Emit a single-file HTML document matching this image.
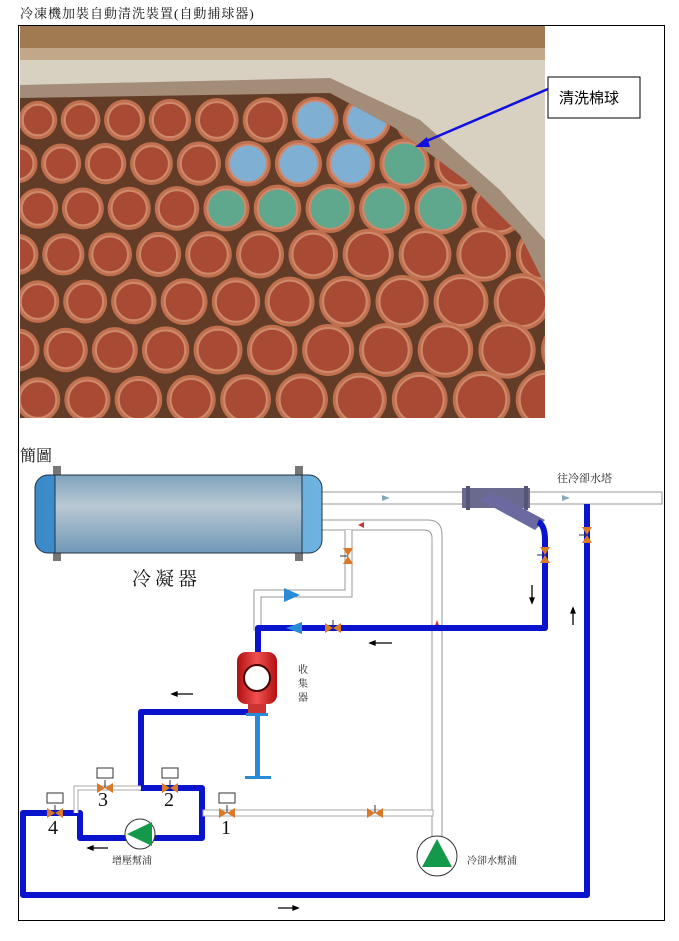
<!DOCTYPE html>
<html><head><meta charset="utf-8">
<style>
body{margin:0;background:#fff;width:679px;height:941px;overflow:hidden;position:relative;font-family:"Liberation Serif","Noto Serif CJK SC","Noto Sans CJK TC",serif;}
.t{position:absolute;white-space:nowrap;color:#111}
</style></head><body>
<div class="t" style="left:20px;top:3px;font-size:13px;letter-spacing:1px">冷凍機加裝自動清洗裝置(自動捕球器)</div>
<div style="position:absolute;left:18px;top:25px;width:645px;height:894px;border:1px solid #000"></div>
<svg id="s" width="679" height="941" style="position:absolute;left:0;top:0">
<defs>
<linearGradient id="cg" x1="0" y1="0" x2="0" y2="1"><stop offset="0" stop-color="#7fa3bd"/><stop offset="0.4" stop-color="#b9c8d2"/><stop offset="1" stop-color="#6f98b8"/></linearGradient>
<linearGradient id="eg" x1="0" y1="0" x2="1" y2="0"><stop offset="0" stop-color="#3a8ac8"/><stop offset="1" stop-color="#6fb3e0"/></linearGradient>
<linearGradient id="rg" x1="0" y1="0" x2="1" y2="0"><stop offset="0" stop-color="#b01010"/><stop offset="0.5" stop-color="#f05050"/><stop offset="1" stop-color="#b01010"/></linearGradient>
<clipPath id="pc"><rect x="20" y="26" width="525" height="392"/></clipPath>
<clipPath id="tc"><polygon points="20,98 330,93 395,128 465,180 520,235 545,285 545,418 20,418"/></clipPath>
</defs>
<g clip-path="url(#pc)">
<rect x="20" y="26" width="525" height="392" fill="#d8d0c0"/>
<rect x="20" y="26" width="525" height="22" fill="#a27a52"/>
<rect x="20" y="48" width="525" height="12" fill="#c2a888"/>
<polygon points="20,85 330,78 420,120 500,190 545,240 545,418 20,418" fill="#6e4a30" opacity="0.5"/>
<g clip-path="url(#tc)"><rect x="20" y="90" width="525" height="330" fill="#623c26"/><g id="tubes"></g></g>
</g>
<rect x="548" y="77" width="92" height="41" fill="#fff" stroke="#000"/>
<text x="559" y="103" font-size="15" font-family="Liberation Sans,Noto Sans CJK TC,sans-serif" fill="#000">清洗棉球</text>
<line x1="548" y1="89" x2="422" y2="143" stroke="#1010e0" stroke-width="2.5"/>
<polygon points="415,147 427,137 430,147" fill="#1010e0"/>

<text x="20" y="461" font-size="16" fill="#111">簡圖</text>
<rect x="320" y="492" width="342" height="12" fill="#fff" stroke="#999"/>
<polygon points="382,495 390,498 382,501" fill="#8ab"/><polygon points="562,495 570,498 562,501" fill="#8ab"/>
<text x="557" y="482" font-size="11" fill="#222">往冷卻水塔</text>
<rect x="462" y="488" width="68" height="20" fill="#6a6a90"/>
<rect x="466" y="486" width="4" height="24" fill="#555578"/><rect x="524" y="486" width="4" height="24" fill="#555578"/>
<polygon points="480,500 492,492 545,520 535,530" fill="#6a6aa0"/>
<path d="M322 520 H428 Q442 520 442 535 V845 H432 V538 Q432 530 424 530 H322 Z" fill="#fff" stroke="#999"/>
<polygon points="358,525 364,522 364,528" fill="#c33"/>
<polygon points="437,620 434,628 440,628" fill="#c33"/>
<path d="M345 530 V590 H254 V630 H261 V597 H352 V530" fill="#fff" stroke="#999"/>
<polygon points="284,588 300,595 284,602" fill="#2a8ad8"/>
<g fill="none" stroke="#0a14cc" stroke-width="6" stroke-linejoin="round">
<path d="M538 522 Q545 525 545 540 V628 H258 V655"/>
<path d="M587 504 V895 H23 V813 H80 V838 H202 V788 H141 V712 H255"/>
</g>
<polygon points="302,622 286,628 302,634" fill="#2a8ad8"/>
<path d="M76 813 V788 H141" fill="none" stroke="#aaa" stroke-width="5"/>
<path d="M76 813 V788 H141" fill="none" stroke="#fff" stroke-width="3"/>
<rect x="203" y="810" width="230" height="6" fill="#fff" stroke="#aaa"/>
<rect x="53" y="466" width="8" height="95" fill="#777"/><rect x="295" y="466" width="8" height="95" fill="#777"/>
<rect x="35" y="475" width="287" height="78" rx="13" fill="url(#eg)" stroke="#234"/>
<rect x="55" y="475" width="247" height="78" fill="url(#cg)" stroke="#234"/>
<text x="132" y="585" font-size="19" fill="#111" letter-spacing="4">冷凝器</text>
<rect x="237" y="652" width="40" height="52" rx="9" fill="url(#rg)"/>
<circle cx="257" cy="678" r="13" fill="#fff" stroke="#400" stroke-width="2"/>
<rect x="248" y="704" width="18" height="10" fill="#c33"/>
<rect x="246" y="713" width="22" height="3" fill="#2a8ad8"/>
<rect x="255" y="715" width="5" height="63" fill="#2a8ad8"/>
<rect x="245" y="776" width="26" height="3" fill="#2a8ad8"/>
<text font-size="10" fill="#222"><tspan x="298" y="673">收</tspan><tspan x="298" y="687">集</tspan><tspan x="298" y="701">器</tspan></text>
<g id="valves"></g>
<circle cx="140" cy="834" r="15" fill="#fff" stroke="#333"/><polygon points="127,834 152,822 152,846" fill="#14994a"/>
<text x="112" y="864" font-size="10" fill="#222">增壓幫浦</text>
<circle cx="437" cy="856" r="20" fill="#fff" stroke="#333"/><polygon points="437,839 452,867 422,867" fill="#14994a"/>
<text x="467" y="864" font-size="10" fill="#222">冷卻水幫浦</text>
<g font-size="20" fill="#111"><text x="98" y="806">3</text><text x="164" y="806">2</text><text x="48" y="834">4</text><text x="221" y="834">1</text></g>
<g stroke="#000" stroke-width="1.3" fill="#000">
<line x1="172" y1="694" x2="193" y2="694"/><polygon points="172,694 177,692 177,696"/>
<line x1="88" y1="848" x2="108" y2="848"/><polygon points="88,848 93,846 93,850"/>
<line x1="370" y1="643" x2="392" y2="643"/><polygon points="370,643 375,641 375,645"/>
<line x1="278" y1="908" x2="298" y2="908"/><polygon points="298,908 293,906 293,910"/>
<line x1="532" y1="585" x2="532" y2="603"/><polygon points="532,603 530,598 534,598"/>
<line x1="573" y1="608" x2="573" y2="625"/><polygon points="573,608 571,613 575,613"/>
</g>
</svg>
<script>
var NS="http://www.w3.org/2000/svg",tg=document.getElementById("tubes");
function c(x,y,r,f,s){var e=document.createElementNS(NS,"circle");e.setAttribute("cx",x);e.setAttribute("cy",y);e.setAttribute("r",r);e.setAttribute("fill",f);if(s){e.setAttribute("stroke",s);e.setAttribute("stroke-width",2);}tg.appendChild(e);}
var blue=[[0,6],[0,7],[1,5],[1,6],[1,7]],green=[[1,8],[2,4],[2,5],[2,6],[2,7],[2,8]];
for(var r=0;r<8;r++){var y=120+r*43+r*r*0.6;var x=(r%2?18:38);var i=0;
 while(x<580){var sc=1+(x-20)/525*0.45+r*0.03;var rad=17*sc;
  var isB=blue.some(function(a){return a[0]==r&&a[1]==i}),isG=green.some(function(a){return a[0]==r&&a[1]==i});
  c(x,y,rad+2,"#c0704f");c(x,y,rad-2,isB?"#7fb0d4":isG?"#5fa88e":"#a84a34","#cf8a6c");
  x+=38*sc+4;i++;}}
var vg=document.getElementById("valves");
function v(x,y,ver,box){var s=ver?'<polygon points="'+(x-5)+','+(y-8)+' '+(x+5)+','+(y-8)+' '+x+','+y+'" fill="#d87a28"/><polygon points="'+(x-5)+','+(y+8)+' '+(x+5)+','+(y+8)+' '+x+','+y+'" fill="#d87a28"/><line x1="'+(x-8)+'" y1="'+y+'" x2="'+x+'" y2="'+y+'" stroke="#333"/>'
 :'<polygon points="'+(x-8)+','+(y-5)+' '+(x-8)+','+(y+5)+' '+x+','+y+'" fill="#d87a28"/><polygon points="'+(x+8)+','+(y-5)+' '+(x+8)+','+(y+5)+' '+x+','+y+'" fill="#d87a28"/><line x1="'+x+'" y1="'+y+'" x2="'+x+'" y2="'+(y-8)+'" stroke="#333"/>';
 if(box)s+='<rect x="'+(x-8)+'" y="'+(y-20)+'" width="16" height="10" fill="#fff" stroke="#333"/>';vg.innerHTML+=s;}
v(348,556,1);v(545,555,1);v(587,535,1);v(333,628,0);v(375,813,0);
v(105,788,0,1);v(170,788,0,1);v(55,813,0,1);v(227,813,0,1);
</script>
</body></html>
